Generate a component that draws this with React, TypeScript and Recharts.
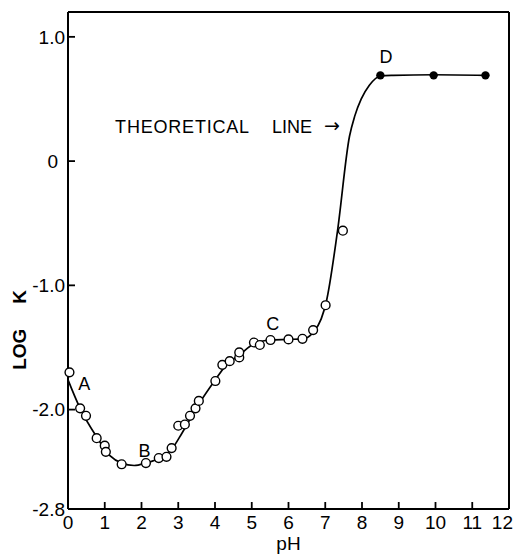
import { ComposedChart, Line, Scatter, XAxis, YAxis, ReferenceDot, ReferenceLine } from "recharts";

// theoretical line
const curvePH = [0, 0.33, 0.78, 1.14, 1.46, 1.8, 2.12, 2.5, 2.82, 3.1, 3.55, 4.01, 4.31, 4.67, 5.06, 5.5, 6.0, 6.4, 6.67, 6.89, 7.03, 7.33, 7.66, 7.8, 7.98, 8.2, 8.5, 8.85, 9.95, 11.36];
const curveLogK = [-1.76, -1.99, -2.22, -2.37, -2.43, -2.45, -2.43, -2.39, -2.32, -2.19, -1.96, -1.76, -1.64, -1.56, -1.47, -1.44, -1.435, -1.43, -1.38, -1.27, -1.13, -0.57, 0.2, 0.36, 0.5, 0.61, 0.685, 0.69, 0.695, 0.69];

// measured points (open circles)
const openPH = [0.04, 0.33, 0.49, 0.78, 1.0, 1.03, 1.46, 2.12, 2.47, 2.68, 2.82, 3.0, 3.18, 3.32, 3.47, 3.56, 4.01, 4.2, 4.4, 4.66, 4.66, 5.06, 5.22, 5.51, 6.0, 6.38, 6.67, 7.01, 7.48];
const openLogK = [-1.7, -1.99, -2.05, -2.23, -2.29, -2.34, -2.44, -2.43, -2.39, -2.38, -2.31, -2.13, -2.12, -2.05, -1.99, -1.93, -1.77, -1.64, -1.61, -1.58, -1.54, -1.46, -1.48, -1.44, -1.435, -1.43, -1.36, -1.16, -0.56];

// filled points
const filledPH = [8.5, 9.95, 11.36];
const filledLogK = [0.69, 0.69, 0.69];

const xTicks = [0, 1, 2, 3, 4, 5, 6, 7, 8, 9, 10, 11, 12];
const yTicks = [-2.8, -2, -1, 0, 1];
const yTickLabels = ["-2.8", "-2.0", "-1.0", "0", "1.0"];

const pointLabels = ["A", "B", "C", "D"];
const pointLabelPH = [0.44, 2.08, 5.57, 8.65];
const pointLabelLogK = [-1.79, -2.33, -1.31, 0.84];

const curve = curvePH.map((ph, i) => ({ ph, logk: curveLogK[i] }));
const open = openPH.map((ph, i) => ({ ph, logk: openLogK[i] }));
const filled = filledPH.map((ph, i) => ({ ph, logk: filledLogK[i] }));

const FONT = "'Liberation Sans', 'DejaVu Sans', sans-serif";

function XTick({ x, y, payload }: any) {
  const v = payload.value;
  const last = v === xTicks[xTicks.length - 1];
  return (
    <g>
      {v > 0 && !last && <line x1={x} x2={x} y1={y} y2={y - 7} stroke="#000" strokeWidth={1.8} />}
      <text x={last ? x + 4 : x} y={y + 20} textAnchor={last ? "end" : "middle"} fontSize={19} fill="#000" fontFamily={FONT}>
        {v}
      </text>
    </g>
  );
}

function YTick({ x, y, payload }: any) {
  const v = payload.value;
  const label = yTickLabels[yTicks.indexOf(v)];
  return (
    <g>
      {v !== yTicks[0] && <line x1={x} x2={x + 7} y1={y} y2={y} stroke="#000" strokeWidth={1.8} />}
      <text x={v === 0 ? x - 10 : x - 3} y={y} dy="0.36em" textAnchor="end" fontSize={19} fill="#000" fontFamily={FONT}>
        {label}
      </text>
    </g>
  );
}

function OpenDot({ cx, cy }: any) {
  return <circle cx={cx} cy={cy} r={4.4} fill="#fff" stroke="#000" strokeWidth={1.4} />;
}

function FilledDot({ cx, cy }: any) {
  return <circle cx={cx} cy={cy} r={4.2} fill="#000" />;
}

function YLabel({ viewBox }: any) {
  const x = viewBox.x + 26;
  const y = viewBox.y + viewBox.height * 0.72;
  return (
    <text x={x} y={y} transform={`rotate(-90 ${x} ${y})`} fontSize={19} fontWeight="bold" fill="#000" fontFamily={FONT}>
      LOG<tspan dx={25}>K</tspan>
    </text>
  );
}

function TheoryLabel({ viewBox }: any) {
  const x = viewBox.x;
  const y = viewBox.y + 6;
  return (
    <g fill="#000">
      <text x={x - 90} y={y} textAnchor="end" fontSize={18} fontFamily={FONT} letterSpacing={0.8}>THEORETICAL</text>
      <text x={x - 28} y={y} textAnchor="end" fontSize={18} fontFamily={FONT}>LINE</text>
      <text x={x} y={y - 1} textAnchor="end" fontSize={19} fontFamily="'DejaVu Sans', sans-serif">→</text>
    </g>
  );
}

export default function App() {
  return (
    <div style={{ position: "absolute", left: 0, top: 0, background: "#fff" }}>
      <ComposedChart
        width={514}
        height={556}
        margin={{ top: 12, right: 5, left: 0, bottom: 0 }}
        style={{ fontFamily: FONT }}
      >
        <XAxis
          xAxisId="b"
          dataKey="ph"
          type="number"
          domain={[0, 12]}
          ticks={xTicks}
          interval={0}
          height={47}
          tickSize={0}
          tickMargin={0}
          tickLine={false}
          axisLine={{ stroke: "#000", strokeWidth: 2 }}
          tick={<XTick />}
          label={{ value: "pH", position: "insideBottom", offset: 6, fontSize: 19, fill: "#000" }}
        />
        <YAxis
          yAxisId="l"
          dataKey="logk"
          type="number"
          domain={[-2.8, 1.2]}
          ticks={yTicks}
          interval={0}
          width={68}
          tickSize={0}
          tickMargin={0}
          tickLine={false}
          axisLine={{ stroke: "#000", strokeWidth: 2 }}
          tick={<YTick />}
          label={<YLabel />}
        />
        {/* frame: top and right edges */}
        <ReferenceLine xAxisId="b" yAxisId="l" y={1.2} stroke="#000" strokeWidth={2} ifOverflow="visible" />
        <ReferenceLine xAxisId="b" yAxisId="l" x={12} stroke="#000" strokeWidth={2} ifOverflow="visible" />
        <Line
          xAxisId="b"
          yAxisId="l"
          data={curve}
          dataKey="logk"
          type="monotone"
          stroke="#000"
          strokeWidth={1.7}
          dot={false}
          activeDot={false}
          isAnimationActive={false}
        />
        <Scatter xAxisId="b" yAxisId="l" data={open} dataKey="logk" shape={<OpenDot />} isAnimationActive={false} />
        <Scatter xAxisId="b" yAxisId="l" data={filled} dataKey="logk" shape={<FilledDot />} isAnimationActive={false} />
        {pointLabels.map((t, i) => (
          <ReferenceDot
            key={t}
            xAxisId="b"
            yAxisId="l"
            x={pointLabelPH[i]}
            y={pointLabelLogK[i]}
            r={0}
            stroke="none"
            label={{ value: t, position: "center", fontSize: 18, fill: "#000" }}
          />
        ))}
        <ReferenceDot xAxisId="b" yAxisId="l" x={7.4} y={0.275} r={0} stroke="none" label={<TheoryLabel />} />
      </ComposedChart>
    </div>
  );
}
